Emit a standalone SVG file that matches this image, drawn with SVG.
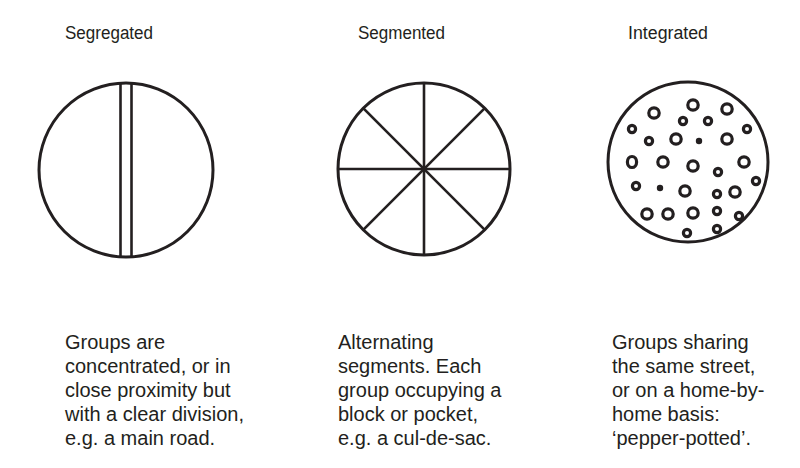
<svg xmlns="http://www.w3.org/2000/svg" width="800" height="468" viewBox="0 0 800 468">
<style>
.t{font-family:"Liberation Sans",Arial,sans-serif;font-size:18px;fill:#231f20}
.b{font-family:"Liberation Sans",Arial,sans-serif;font-size:20px;fill:#231f20}
.c{fill:none;stroke:#231f20;stroke-width:3}
.l{stroke:#231f20;stroke-width:2.6;fill:none}
.big{fill:none;stroke:#231f20;stroke-width:3.2}
.med{fill:none;stroke:#231f20;stroke-width:3.2}
.dot{fill:#231f20}
</style>
<rect width="800" height="468" fill="#fff"/>
<g id="segregated">
<text class="t" x="65" y="39" textLength="88" lengthAdjust="spacingAndGlyphs">Segregated</text>
<circle class="c" cx="126" cy="170" r="87"/>
<line class="l" x1="120.5" y1="83.2" x2="120.5" y2="256.8"/>
<line class="l" x1="131.5" y1="83.2" x2="131.5" y2="256.8"/>
<text class="b" x="65" y="349">Groups are</text>
<text class="b" x="65" y="373">concentrated, or in</text>
<text class="b" x="65" y="397">close proximity but</text>
<text class="b" x="65" y="421">with a clear division,</text>
<text class="b" x="65" y="445">e.g. a main road.</text>
</g>
<g id="segmented">
<text class="t" x="358" y="39" textLength="87" lengthAdjust="spacingAndGlyphs">Segmented</text>
<circle class="c" cx="424" cy="169" r="86"/>
<line class="l" x1="424" y1="83" x2="424" y2="255"/>
<line class="l" x1="338" y1="169" x2="510" y2="169"/>
<line class="l" x1="363.2" y1="108.2" x2="484.8" y2="229.8"/>
<line class="l" x1="363.2" y1="229.8" x2="484.8" y2="108.2"/>
<text class="b" x="338" y="349">Alternating</text>
<text class="b" x="338" y="373">segments. Each</text>
<text class="b" x="338" y="397">group occupying a</text>
<text class="b" x="338" y="421">block or pocket,</text>
<text class="b" x="338" y="445">e.g. a cul-de-sac.</text>
</g>
<g id="integrated">
<text class="t" x="628" y="39" textLength="80" lengthAdjust="spacingAndGlyphs">Integrated</text>
<circle class="c" cx="688" cy="162" r="80"/>
<g class="big">
<circle cx="693" cy="105" r="5.2"/>
<circle cx="654" cy="113" r="5.2"/>
<circle cx="727" cy="109" r="5.2"/>
<circle cx="676" cy="139" r="5.2"/>
<circle cx="727" cy="139" r="5.2"/>
<ellipse cx="632" cy="162" rx="4.6" ry="5.5"/>
<circle cx="663" cy="162" r="5.2"/>
<circle cx="693" cy="166" r="5.2"/>
<circle cx="744" cy="162" r="5.2"/>
<circle cx="685" cy="191" r="5.2"/>
<circle cx="735" cy="192" r="5.2"/>
<circle cx="647" cy="214" r="5.2"/>
<circle cx="668" cy="214" r="5.2"/>
<circle cx="693" cy="213" r="5.2"/>
</g>
<g class="med">
<circle cx="683" cy="121" r="3.6"/>
<circle cx="708" cy="121" r="3.6"/>
<circle cx="632" cy="129" r="3.6"/>
<circle cx="747" cy="129" r="3.6"/>
<circle cx="649" cy="141" r="3.6"/>
<circle cx="718" cy="172" r="3.6"/>
<circle cx="756" cy="181" r="3.6"/>
<circle cx="636" cy="186" r="3.6"/>
<circle cx="717" cy="194" r="3.6"/>
<circle cx="717" cy="211" r="3.6"/>
<circle cx="739" cy="216" r="3.6"/>
<circle cx="687" cy="233" r="3.6"/>
<circle cx="717" cy="229" r="3.6"/>
</g>
<circle class="dot" cx="699" cy="141" r="3.2"/>
<circle class="dot" cx="660" cy="188" r="3.2"/>
<text class="b" x="612" y="349">Groups sharing</text>
<text class="b" x="612" y="373">the same street,</text>
<text class="b" x="612" y="397">or on a home-by-</text>
<text class="b" x="612" y="421">home basis:</text>
<text class="b" x="612" y="445">‘pepper-potted’.</text>
</g>
</svg>
